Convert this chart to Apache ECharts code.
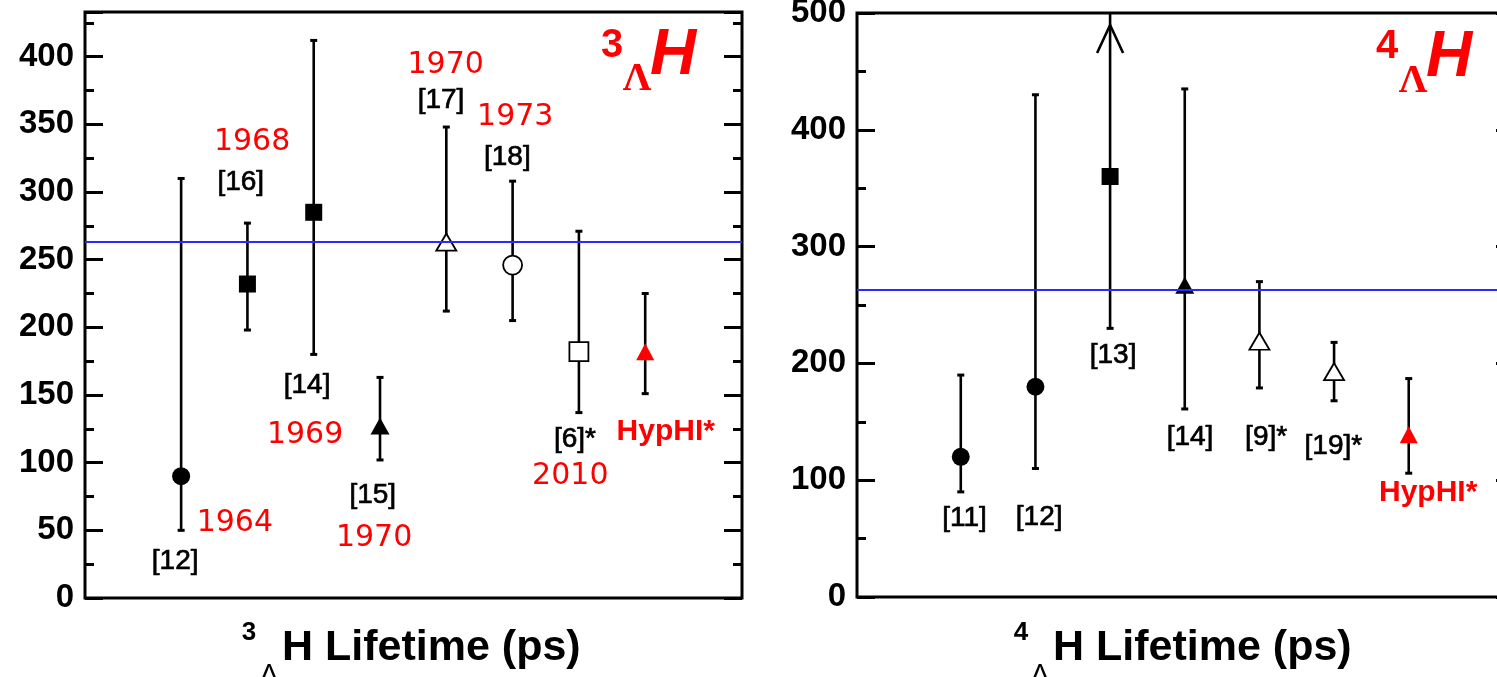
<!DOCTYPE html>
<html>
<head>
<meta charset="utf-8">
<script src="https://cdn.jsdelivr.net/npm/echarts@6/dist/echarts.min.js"></script>
<style>
html, body { margin: 0; padding: 0; background: #fff; }
#chart { width: 1497px; height: 677px; }
</style>
</head>
<body>
<div id="chart"></div>
<script>
// ---- 3ΛH lifetime (left panel) ----
var h3Pos = [1, 2, 3, 4, 5, 6, 7, 8];
var h3Val = [90, 232, 285, 127, 263, 246, 182, 182];
var h3Low = [50, 198, 180, 102, 212, 205, 137, 151];
var h3High = [310, 277, 412, 163, 348, 308, 271, 225];
var h3Marker = ['circle', 'square', 'square', 'triangle', 'openTriangle', 'openCircle', 'openSquare', 'redTriangle'];

// annotations (data units of the left panel)
var h3Text = ['[12]', '[16]', '[14]', '[15]', '[17]', '[18]', '[6]*', 'HypHI*',
              '1964', '1968', '1969', '1970', '1970', '1973', '2010'];
var h3TextX = [0.91, 1.90, 2.90, 3.89, 4.92, 5.92, 6.94, 8.31,
               1.81, 2.07, 2.87, 3.91, 4.99, 6.04, 6.87];
var h3TextY = [27, 307, 157, 76, 368, 326, 117, 123,
               55, 337, 120, 44, 394, 355, 90];
var h3TextKind = ['ref', 'ref', 'ref', 'ref', 'ref', 'ref', 'ref', 'hyp',
                  'year', 'year', 'year', 'year', 'year', 'year', 'year'];

// ---- 4ΛH lifetime (right panel) ----
var h4Pos = [1, 2, 3, 4, 5, 6, 7];
var h4Val = [120, 180, 360, 267, 219, 193, 139];
var h4Low = [90, 110, 230, 161, 179, 168, 106];
var h4High = [190, 430, 500, 435, 270, 218, 187];
var h4Arrow = [0, 0, 1, 0, 0, 0, 0];   // [13]: upper limit off scale
var h4Marker = ['circle', 'circle', 'square', 'triangle', 'openTriangle', 'openTriangle', 'redTriangle'];

var h4Text = ['[11]', '[12]', '[13]', '[14]', '[9]*', '[19]*', 'HypHI*'];
var h4TextX = [1.05, 2.05, 3.04, 4.07, 5.09, 5.99, 7.26];
var h4TextY = [67, 68, 207, 137, 137, 129, 89];
var h4TextKind = ['ref', 'ref', 'ref', 'ref', 'ref', 'ref', 'hyp'];

var freeLambda = 263;   // free Λ lifetime (ps)

var markerStyle = {
    circle:       { symbol: 'circle',   size: 18,       fill: '#000', stroke: '#000' },
    square:       { symbol: 'rect',     size: 17,       fill: '#000', stroke: '#000' },
    triangle:     { symbol: 'triangle', size: [19, 17], fill: '#000', stroke: '#000' },
    openTriangle: { symbol: 'triangle', size: [20, 17], fill: '#fff', stroke: '#000' },
    openCircle:   { symbol: 'circle',   size: 19,       fill: '#fff', stroke: '#000' },
    openSquare:   { symbol: 'rect',     size: 19,       fill: '#fff', stroke: '#000' },
    redTriangle:  { symbol: 'triangle', size: [18, 17], fill: '#f00', stroke: '#f00' }
};

var textFont = {
    ref:  { font: 'normal 28px "Liberation Sans", Arial, sans-serif', fill: '#000', stroke: '#000', sw: 0.7 },
    hyp:  { font: 'bold 30px "Liberation Sans", Arial, sans-serif', fill: '#f00', stroke: null, sw: 0 },
    year: { font: 'normal 30px "DejaVu Sans", sans-serif', fill: '#f00', stroke: null, sw: 0 }
};

function markerData(pos, val, kinds) {
    return pos.map(function (x, i) {
        var m = markerStyle[kinds[i]];
        return {
            value: [x, val[i]],
            symbol: m.symbol,
            symbolSize: m.size,
            itemStyle: { color: m.fill, opacity: 1, borderColor: m.stroke, borderWidth: m.fill === '#fff' ? 1.8 : 0 }
        };
    });
}

function errData(pos, low, high, arrow) {
    return pos.map(function (x, i) {
        return [x, low[i], high[i], arrow ? arrow[i] : 0];
    });
}

function renderErr(params, api) {
    var x = api.value(0);
    var lo = api.coord([x, api.value(1)]);
    var hi = api.coord([x, api.value(2)]);
    var st = { stroke: '#000', lineWidth: 2.6 };
    var cap = { stroke: '#000', lineWidth: 3 };
    var kids = [
        { type: 'line', shape: { x1: lo[0], y1: lo[1], x2: hi[0], y2: hi[1] }, style: st },
        { type: 'line', shape: { x1: lo[0] - 3.5, y1: lo[1], x2: lo[0] + 3.5, y2: lo[1] }, style: cap }
    ];
    if (api.value(3)) {
        var tip = hi[1] + 12;
        kids.push({ type: 'polyline', shape: { points: [[hi[0] - 13, tip + 28], [hi[0], tip], [hi[0] + 13, tip + 28]] }, style: { stroke: '#000', lineWidth: 2.6, fill: null } });
    } else {
        kids.push({ type: 'line', shape: { x1: hi[0] - 3.5, y1: hi[1], x2: hi[0] + 3.5, y2: hi[1] }, style: cap });
    }
    return { type: 'group', children: kids };
}

function makeTextRenderer(tx, ty, txt, kind) {
    return function (params, api) {
        var i = params.dataIndex;
        var p = api.coord([tx[i], ty[i]]);
        var f = textFont[kind[i]];
        return {
            type: 'text',
            style: {
                text: txt[i], x: p[0], y: p[1], font: f.font, fill: f.fill,
                stroke: f.stroke, lineWidth: f.sw, align: 'center', verticalAlign: 'middle'
            }
        };
    };
}

function yAxisPair(gridIndex, max, interval) {
    var common = {
        type: 'value', gridIndex: gridIndex, min: 0, max: max, interval: interval,
        axisLine: { show: false, onZero: false },
        splitLine: { show: false },
        axisTick: { show: true, inside: true, length: 18, lineStyle: { color: '#000', width: 3 } },
        minorTick: { show: true, splitNumber: 2, length: 9, lineStyle: { color: '#000', width: 3 } }
    };
    var left = Object.assign({}, common, {
        position: 'left',
        axisLabel: {
            show: true, margin: 11, color: '#000',
            fontFamily: '"Liberation Sans", Arial, sans-serif', fontWeight: 'bold', fontSize: 33,
            formatter: function (v) { return v % interval === 0 ? String(v) : ''; }
        }
    });
    var right = Object.assign({}, common, { position: 'right', axisLabel: { show: false } });
    return [left, right];
}

var chart = echarts.init(document.getElementById('chart'));

var titleFont = '"Liberation Sans", Arial, sans-serif';
var graphics = [
    // panel tags
    { type: 'text', x: 612, y: 46, style: { text: '3', font: 'bold 40px ' + titleFont, fill: '#f00', align: 'center', verticalAlign: 'middle' } },
    { type: 'text', x: 637, y: 80, style: { text: 'Λ', font: 'bold 40px "Liberation Serif", serif', fill: '#f00', align: 'center', verticalAlign: 'middle' } },
    { type: 'text', x: 673, y: 56, style: { text: 'H', font: 'italic bold 64px ' + titleFont, fill: '#f00', align: 'center', verticalAlign: 'middle' } },
    { type: 'text', x: 1387, y: 47, style: { text: '4', font: 'bold 40px ' + titleFont, fill: '#f00', align: 'center', verticalAlign: 'middle' } },
    { type: 'text', x: 1413, y: 82, style: { text: 'Λ', font: 'bold 40px "Liberation Serif", serif', fill: '#f00', align: 'center', verticalAlign: 'middle' } },
    { type: 'text', x: 1449, y: 58, style: { text: 'H', font: 'italic bold 64px ' + titleFont, fill: '#f00', align: 'center', verticalAlign: 'middle' } },
    // axis titles
    { type: 'text', x: 249, y: 633, style: { text: '3', font: 'bold 26px ' + titleFont, fill: '#000', align: 'center', verticalAlign: 'middle' } },
    { type: 'text', x: 269, y: 675, style: { text: 'Λ', font: 'normal 28px ' + titleFont, fill: '#000', align: 'center', verticalAlign: 'middle' } },
    { type: 'text', x: 282, y: 648, style: { text: 'H Lifetime (ps)', font: 'bold 43px ' + titleFont, fill: '#000', align: 'left', verticalAlign: 'middle' } },
    { type: 'text', x: 1021, y: 633, style: { text: '4', font: 'bold 26px ' + titleFont, fill: '#000', align: 'center', verticalAlign: 'middle' } },
    { type: 'text', x: 1040, y: 675, style: { text: 'Λ', font: 'normal 28px ' + titleFont, fill: '#000', align: 'center', verticalAlign: 'middle' } },
    { type: 'text', x: 1053, y: 648, style: { text: 'H Lifetime (ps)', font: 'bold 43px ' + titleFont, fill: '#000', align: 'left', verticalAlign: 'middle' } }
];

var blueLine = {
    silent: true, symbol: 'none', label: { show: false },
    lineStyle: { color: '#2a2aff', width: 2, type: 'solid' },
    data: [{ yAxis: freeLambda }]
};

option = {
    backgroundColor: '#fff',
    animation: false,
    grid: [
        { left: 85, top: 12, width: 657, height: 586, show: true, borderColor: '#000', borderWidth: 3, outerBoundsMode: 'none' },
        { left: 857, top: 13, width: 657, height: 584, show: true, borderColor: '#000', borderWidth: 3, outerBoundsMode: 'none' }
    ],
    xAxis: [
        { type: 'value', gridIndex: 0, min: -0.45, max: 9.46, show: false },
        { type: 'value', gridIndex: 1, min: -0.39, max: 8.41, show: false }
    ],
    yAxis: yAxisPair(0, 433, 50).concat(yAxisPair(1, 500, 100)),
    graphic: graphics,
    series: [
        {
            type: 'custom', xAxisIndex: 0, yAxisIndex: 0, renderItem: renderErr,
            data: errData(h3Pos, h3Low, h3High), z: 2, markLine: blueLine
        },
        {
            type: 'scatter', xAxisIndex: 0, yAxisIndex: 0, z: 3,
            data: markerData(h3Pos, h3Val, h3Marker)
        },
        {
            type: 'custom', xAxisIndex: 0, yAxisIndex: 0, z: 4,
            renderItem: makeTextRenderer(h3TextX, h3TextY, h3Text, h3TextKind),
            data: h3Text.map(function (t, i) { return [h3TextX[i], h3TextY[i]]; })
        },
        {
            type: 'custom', xAxisIndex: 1, yAxisIndex: 2, renderItem: renderErr,
            data: errData(h4Pos, h4Low, h4High, h4Arrow), z: 2, markLine: blueLine
        },
        {
            type: 'scatter', xAxisIndex: 1, yAxisIndex: 2, z: 3,
            data: markerData(h4Pos, h4Val, h4Marker)
        },
        {
            type: 'custom', xAxisIndex: 1, yAxisIndex: 2, z: 4,
            renderItem: makeTextRenderer(h4TextX, h4TextY, h4Text, h4TextKind),
            data: h4Text.map(function (t, i) { return [h4TextX[i], h4TextY[i]]; })
        }
    ]
};

chart.setOption(option);
</script>
</body>
</html>
